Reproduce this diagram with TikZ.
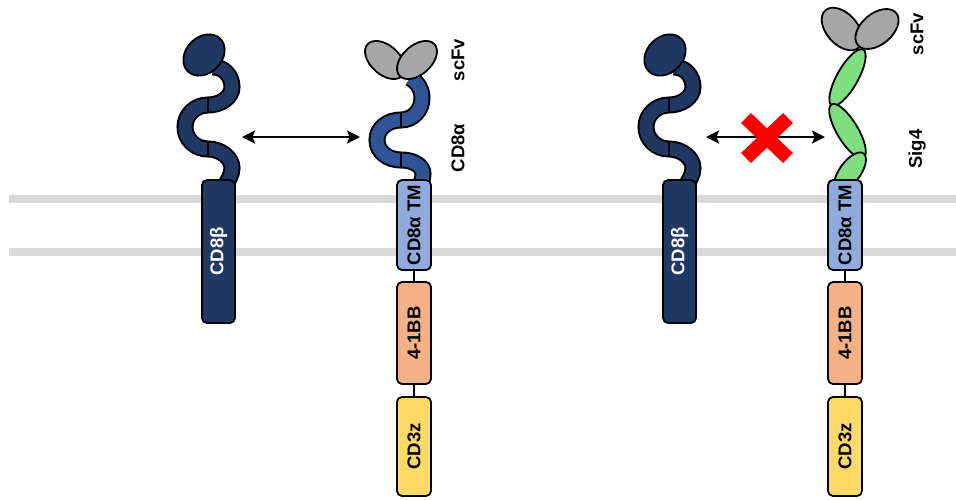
\documentclass[tikz,border=0pt]{standalone}
\usepackage{graphicx}
\usepackage{fontspec}
\setmainfont{Liberation Sans}
\usetikzlibrary{arrows.meta,shapes.geometric}

\definecolor{betanavy}{HTML}{203864}
\definecolor{alphablue}{HTML}{2F5597}
\definecolor{tmblue}{HTML}{8FAADC}
\definecolor{bbsalmon}{HTML}{F4B183}
\definecolor{zetayellow}{HTML}{FFD966}
\definecolor{sigfour}{HTML}{7DDF7D}
\definecolor{scfvgray}{HTML}{A6A6A6}
\definecolor{membranegray}{HTML}{D9D9D9}

\begin{document}
\begin{tikzpicture}[x=1pt,y=-1pt,
  txt/.style={font=\bfseries\fontsize{18.5}{22}\selectfont},
  lbl/.style={txt, rotate=90, inner sep=0pt},
  domainbox/.style={draw=black, line width=1.8pt, rounded corners=5pt,
    minimum width=34pt, inner sep=0pt, txt},
  linker/.style={draw=black, line width=1.8pt},
  membrane/.style={draw=membranegray, line width=8pt},
  chainout/.style={draw=black, line width=17pt},
  chainin/.style={line width=13pt},
  tick/.style={draw=black, line width=1.5pt},
  lobe/.style={ellipse, draw=black, line width=1.8pt, fill=scfvgray, inner sep=0pt},
  hinge/.style={ellipse, draw=black, line width=1.8pt, fill=sigfour,
    minimum height=21pt, inner sep=0pt},
  headnode/.style={ellipse, draw=black, line width=1.8pt, fill=betanavy,
    minimum width=46pt, minimum height=36pt, inner sep=0pt, rotate=45},
  dblarrow/.style={draw=black, line width=2pt,
    {Stealth[length=13pt,width=13pt,inset=2.5pt]}-{Stealth[length=13pt,width=13pt,inset=2.5pt]}},
  block/.style={draw=red, line width=14pt}]

\useasboundingbox (0,0) rectangle (956,499);

% lipid bilayer
\coordinate (memTopL) at (9,199);
\coordinate (memTopR) at (956,199);
\coordinate (memBotL) at (9,252);
\coordinate (memBotR) at (956,252);
\draw[membrane] (memTopL) -- (memTopR);
\draw[membrane] (memBotL) -- (memBotR);

% CD8 beta chains (same molecule on both sides)
\foreach \dx/\n in {0/L,461/R}{
  \begin{scope}[xshift=\dx pt]
    \def\betapath{(213,67) .. controls (224,67) and (232,76) .. (232,87)
      .. controls (232,97) and (221,105) .. (208,105)
      .. controls (195,105) and (185,115) .. (185,127)
      .. controls (185,139) and (195,149) .. (208,149)
      .. controls (221,149) and (232,158) .. (232,168)
      .. controls (232,175) and (228,180) .. (224,188)}
    \draw[chainout] \betapath;
    \draw[chainin, betanavy] \betapath;
    \draw[tick] (208,97) -- (208,113);
    \draw[tick] (208,141) -- (208,157);
    \node[headnode] (betahead\n) at (204,55) {};
    \node[domainbox, fill=betanavy, minimum width=33pt, minimum height=143pt,
      text=white] (beta\n) at (218.5,251.5) {\rotatebox{90}{CD8β}};
  \end{scope}
}

% CAR with CD8 alpha hinge
\def\alphapath{(410,78) .. controls (418,82) and (422,90) .. (422,98)
  .. controls (422,110) and (413,120) .. (401,120)
  .. controls (388,120) and (377,128) .. (377,140)
  .. controls (377,152) and (388,160) .. (401,160)
  .. controls (414,160) and (423,166) .. (423,174)
  .. controls (423,179) and (421,183) .. (419,190)}
\draw[chainout] \alphapath;
\draw[chainin, alphablue] \alphapath;
\draw[tick] (401,112) -- (401,128);
\draw[tick] (401,152) -- (401,168);
\node[lobe, minimum width=47pt, minimum height=29pt, rotate=-42] (vhL) at (385,60) {};
\node[lobe, minimum width=47pt, minimum height=29pt, rotate=42] (vlL) at (417,60) {};

\node[domainbox, fill=tmblue, minimum height=90pt] (tmL) at (414,225) {\rotatebox{90}{CD8α TM}};
\node[domainbox, fill=bbsalmon, minimum height=102pt] (bbL) at (414,333) {\rotatebox{90}{4-1BB}};
\node[domainbox, fill=zetayellow, minimum height=99pt] (zL) at (414,446.5) {\rotatebox{90}{CD3z}};
\draw[linker] (tmL.south) -- (bbL.north);
\draw[linker] (bbL.south) -- (zL.north);

\node[lbl] (scfvLabelL) at (458,60) {scFv};
\node[lbl] (alphaLabel) at (458,148) {CD8α};

% CAR with Sig4 hinge
\node[hinge, minimum width=64pt, rotate=60.6] (sigA) at (847.5,77.5) {};
\node[hinge, minimum width=62pt, rotate=-59] (sigB) at (847.5,131) {};
\node[hinge, minimum width=46pt, rotate=54] (sigC) at (850,172) {};
\node[lobe, minimum width=50pt, minimum height=31pt, rotate=-48] (vhR) at (842,29) {};
\node[lobe, minimum width=50pt, minimum height=31pt, rotate=40] (vlR) at (877,29) {};

\node[domainbox, fill=tmblue, minimum height=90pt] (tmR) at (845,225) {\rotatebox{90}{CD8α TM}};
\node[domainbox, fill=bbsalmon, minimum height=102pt] (bbR) at (845,333) {\rotatebox{90}{4-1BB}};
\node[domainbox, fill=zetayellow, minimum height=99pt] (zR) at (845,446.5) {\rotatebox{90}{CD3z}};
\draw[linker] (tmR.south) -- (bbR.north);
\draw[linker] (bbR.south) -- (zR.north);

\node[lbl] (scfvLabelR) at (917,34) {scFv};
\node[lbl] (sigLabel) at (917,149) {Sig4};

% interactions
\coordinate (pairL1) at (242,137);
\coordinate (pairL2) at (360,137);
\draw[dblarrow] (pairL1) -- (pairL2);

\coordinate (pairR1) at (706,137);
\coordinate (pairR2) at (825,137);
\draw[dblarrow] (pairR1) -- (pairR2);
\coordinate (crossA) at (746,118);
\coordinate (crossB) at (788,158);
\coordinate (crossC) at (788,118);
\coordinate (crossD) at (746,158);
\draw[block] (crossA) -- (crossB);
\draw[block] (crossC) -- (crossD);

\end{tikzpicture}
\end{document}
